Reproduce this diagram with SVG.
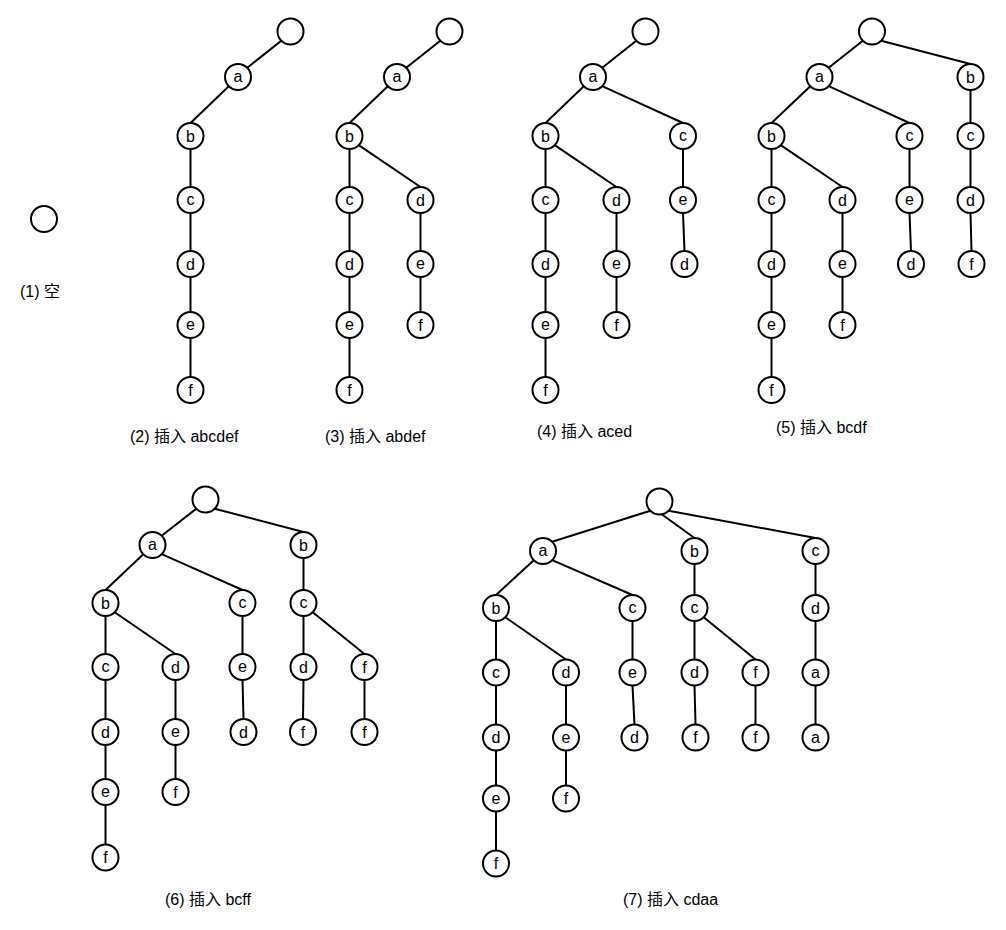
<svg xmlns="http://www.w3.org/2000/svg" width="1006" height="930" viewBox="0 0 1006 930">
<style>
.n circle{fill:#fff;stroke:#000;stroke-width:2}
.n text{font-family:"Liberation Sans","Noto Sans CJK SC",sans-serif;font-size:16px;text-anchor:middle;fill:#000}
#edges line{stroke:#000;stroke-width:2}
.cap{font-family:"Liberation Sans","Noto Sans CJK SC",sans-serif;font-size:16px;fill:#000}
</style>
<rect width="1006" height="930" fill="#fff"/>
<g id="edges">
<!-- tree 2 -->
<line x1="281.3" y1="40.7" x2="247.2" y2="67.8"/>
<line x1="228.8" y1="86.2" x2="190.5" y2="123"/>
<line x1="190.5" y1="149" x2="190.5" y2="187"/>
<line x1="190.5" y1="213" x2="190.5" y2="251"/>
<line x1="190.5" y1="277" x2="190.5" y2="312"/>
<line x1="190.5" y1="338" x2="190.5" y2="377"/>
<!-- tree 3 -->
<line x1="440.3" y1="40.7" x2="406.2" y2="67.8"/>
<line x1="387.8" y1="86.2" x2="349.5" y2="123"/>
<line x1="349.5" y1="149" x2="349.5" y2="187"/>
<line x1="358.7" y1="145.2" x2="420.5" y2="187"/>
<line x1="349.5" y1="213" x2="349.5" y2="251"/>
<line x1="349.5" y1="277" x2="349.5" y2="312"/>
<line x1="349.5" y1="338" x2="349.5" y2="377"/>
<line x1="420.5" y1="213" x2="420.5" y2="251"/>
<line x1="420.5" y1="277" x2="420.5" y2="312"/>
<!-- tree 4 -->
<line x1="636.3" y1="40.7" x2="602.2" y2="67.8"/>
<line x1="583.8" y1="86.2" x2="545.5" y2="123"/>
<line x1="602.2" y1="86.2" x2="683" y2="123"/>
<line x1="545.5" y1="149" x2="545.5" y2="187"/>
<line x1="554.7" y1="145.2" x2="616.5" y2="187"/>
<line x1="545.5" y1="213" x2="545.5" y2="251"/>
<line x1="545.5" y1="277" x2="545.5" y2="312"/>
<line x1="545.5" y1="338" x2="545.5" y2="377"/>
<line x1="616.5" y1="213" x2="616.5" y2="251"/>
<line x1="616.5" y1="277" x2="616.5" y2="312"/>
<line x1="683" y1="149" x2="683" y2="187"/>
<line x1="683" y1="213" x2="684.5" y2="251"/>
<!-- tree 5 -->
<line x1="862.8" y1="40.7" x2="828.7" y2="67.8"/>
<line x1="881.2" y1="40.7" x2="970.5" y2="64"/>
<line x1="810.3" y1="86.2" x2="771.5" y2="123"/>
<line x1="828.7" y1="86.2" x2="909.5" y2="123"/>
<line x1="771.5" y1="149" x2="771.5" y2="187"/>
<line x1="780.7" y1="145.2" x2="842.5" y2="187"/>
<line x1="771.5" y1="213" x2="771.5" y2="251"/>
<line x1="771.5" y1="277" x2="771.5" y2="312"/>
<line x1="771.5" y1="338" x2="771.5" y2="377"/>
<line x1="842.5" y1="213" x2="842.5" y2="251"/>
<line x1="842.5" y1="277" x2="842.5" y2="312"/>
<line x1="909.5" y1="149" x2="909.5" y2="187"/>
<line x1="909.5" y1="213" x2="911" y2="251"/>
<line x1="970.5" y1="90" x2="970.5" y2="123"/>
<line x1="970.5" y1="149" x2="970.5" y2="187"/>
<line x1="970.5" y1="213" x2="971.5" y2="251"/>
<!-- tree 6 -->
<line x1="196.3" y1="508.7" x2="161.7" y2="535.8"/>
<line x1="214.7" y1="508.7" x2="303.5" y2="532"/>
<line x1="143.3" y1="554.2" x2="105.5" y2="590"/>
<line x1="161.7" y1="554.2" x2="242.5" y2="590"/>
<line x1="303.5" y1="558" x2="303.5" y2="590"/>
<line x1="105.5" y1="616" x2="105.5" y2="654"/>
<line x1="114.7" y1="612.2" x2="175.5" y2="654"/>
<line x1="242.5" y1="616" x2="242.5" y2="654"/>
<line x1="303.5" y1="616" x2="303.5" y2="654"/>
<line x1="312.7" y1="612.2" x2="364.5" y2="654"/>
<line x1="105.5" y1="680" x2="105.5" y2="719"/>
<line x1="175.5" y1="680" x2="175.5" y2="719"/>
<line x1="242.5" y1="680" x2="243.5" y2="719"/>
<line x1="303.5" y1="680" x2="303" y2="719"/>
<line x1="364.5" y1="680" x2="364.5" y2="719"/>
<line x1="105.5" y1="745" x2="105.5" y2="779"/>
<line x1="175.5" y1="745" x2="175.5" y2="779"/>
<line x1="105.5" y1="805" x2="105.5" y2="844.5"/>
<!-- tree 7 -->
<line x1="650.3" y1="510.7" x2="552.2" y2="541.8"/>
<line x1="662" y1="514.5" x2="694.5" y2="538"/>
<line x1="668.7" y1="510.7" x2="815.5" y2="538"/>
<line x1="533.8" y1="560.2" x2="496" y2="595"/>
<line x1="552.2" y1="560.2" x2="632.5" y2="595"/>
<line x1="694.5" y1="564" x2="694.5" y2="595"/>
<line x1="815.5" y1="564" x2="815.5" y2="595"/>
<line x1="496" y1="621" x2="496" y2="659.5"/>
<line x1="505.2" y1="617.2" x2="566" y2="659.5"/>
<line x1="632.5" y1="621" x2="632.5" y2="659.5"/>
<line x1="694.5" y1="621" x2="694.5" y2="659.5"/>
<line x1="703.7" y1="617.2" x2="755.5" y2="659.5"/>
<line x1="815.5" y1="621" x2="815.5" y2="659.5"/>
<line x1="496" y1="685.5" x2="496" y2="724.5"/>
<line x1="566" y1="685.5" x2="566" y2="724.5"/>
<line x1="632.5" y1="685.5" x2="634.5" y2="724.5"/>
<line x1="694.5" y1="685.5" x2="695.5" y2="724.5"/>
<line x1="755.5" y1="685.5" x2="755.5" y2="724.5"/>
<line x1="815.5" y1="685.5" x2="815.5" y2="724.5"/>
<line x1="496" y1="750.5" x2="496" y2="785.5"/>
<line x1="566" y1="750.5" x2="566" y2="785.5"/>
<line x1="496" y1="811.5" x2="496" y2="850.5"/>
</g>
<!-- tree 1 -->
<g id="t1-root" class="n"><circle cx="44" cy="219" r="13"/></g>
<!-- tree 2 -->
<g id="t2-root" class="n"><circle cx="290.5" cy="31.5" r="13"/></g>
<g id="t2-a" class="n"><circle cx="238" cy="77" r="13"/><text x="238" y="82">a</text></g>
<g id="t2-b" class="n"><circle cx="190.5" cy="136" r="13"/><text x="190.5" y="141.5">b</text></g>
<g id="t2-c" class="n"><circle cx="190.5" cy="200" r="13"/><text x="190.5" y="205">c</text></g>
<g id="t2-d" class="n"><circle cx="190.5" cy="264" r="13"/><text x="190.5" y="269.5">d</text></g>
<g id="t2-e" class="n"><circle cx="190.5" cy="325" r="13"/><text x="190.5" y="330">e</text></g>
<g id="t2-f" class="n"><circle cx="190.5" cy="390" r="13"/><text x="190.5" y="395.5">f</text></g>
<!-- tree 3 -->
<g id="t3-root" class="n"><circle cx="449.5" cy="31.5" r="13"/></g>
<g id="t3-a" class="n"><circle cx="397" cy="77" r="13"/><text x="397" y="82">a</text></g>
<g id="t3-b" class="n"><circle cx="349.5" cy="136" r="13"/><text x="349.5" y="141.5">b</text></g>
<g id="t3-bc" class="n"><circle cx="349.5" cy="200" r="13"/><text x="349.5" y="205">c</text></g>
<g id="t3-bcd" class="n"><circle cx="349.5" cy="264" r="13"/><text x="349.5" y="269.5">d</text></g>
<g id="t3-bcde" class="n"><circle cx="349.5" cy="325" r="13"/><text x="349.5" y="330">e</text></g>
<g id="t3-bcdef" class="n"><circle cx="349.5" cy="390" r="13"/><text x="349.5" y="395.5">f</text></g>
<g id="t3-bd" class="n"><circle cx="420.5" cy="200" r="13"/><text x="420.5" y="205.5">d</text></g>
<g id="t3-bde" class="n"><circle cx="420.5" cy="264" r="13"/><text x="420.5" y="269">e</text></g>
<g id="t3-bdef" class="n"><circle cx="420.5" cy="325" r="13"/><text x="420.5" y="330.5">f</text></g>
<!-- tree 4 -->
<g id="t4-root" class="n"><circle cx="645.5" cy="31.5" r="13"/></g>
<g id="t4-a" class="n"><circle cx="593" cy="77" r="13"/><text x="593" y="82">a</text></g>
<g id="t4-b" class="n"><circle cx="545.5" cy="136" r="13"/><text x="545.5" y="141.5">b</text></g>
<g id="t4-bc" class="n"><circle cx="545.5" cy="200" r="13"/><text x="545.5" y="205">c</text></g>
<g id="t4-bcd" class="n"><circle cx="545.5" cy="264" r="13"/><text x="545.5" y="269.5">d</text></g>
<g id="t4-bcde" class="n"><circle cx="545.5" cy="325" r="13"/><text x="545.5" y="330">e</text></g>
<g id="t4-bcdef" class="n"><circle cx="545.5" cy="390" r="13"/><text x="545.5" y="395.5">f</text></g>
<g id="t4-bd" class="n"><circle cx="616.5" cy="200" r="13"/><text x="616.5" y="205.5">d</text></g>
<g id="t4-bde" class="n"><circle cx="616.5" cy="264" r="13"/><text x="616.5" y="269">e</text></g>
<g id="t4-bdef" class="n"><circle cx="616.5" cy="325" r="13"/><text x="616.5" y="330.5">f</text></g>
<g id="t4-c" class="n"><circle cx="683" cy="136" r="13"/><text x="683" y="141">c</text></g>
<g id="t4-ce" class="n"><circle cx="683" cy="200" r="13"/><text x="683" y="205">e</text></g>
<g id="t4-ced" class="n"><circle cx="684.5" cy="264" r="13"/><text x="684.5" y="269.5">d</text></g>
<!-- tree 5 -->
<g id="t5-root" class="n"><circle cx="872" cy="31.5" r="13"/></g>
<g id="t5-a" class="n"><circle cx="819.5" cy="77" r="13"/><text x="819.5" y="82">a</text></g>
<g id="t5-b" class="n"><circle cx="970.5" cy="77" r="13"/><text x="970.5" y="82.5">b</text></g>
<g id="t5-ab" class="n"><circle cx="771.5" cy="136" r="13"/><text x="771.5" y="141.5">b</text></g>
<g id="t5-ac" class="n"><circle cx="909.5" cy="136" r="13"/><text x="909.5" y="141">c</text></g>
<g id="t5-bc" class="n"><circle cx="970.5" cy="136" r="13"/><text x="970.5" y="141">c</text></g>
<g id="t5-abc" class="n"><circle cx="771.5" cy="200" r="13"/><text x="771.5" y="205">c</text></g>
<g id="t5-abcd" class="n"><circle cx="771.5" cy="264" r="13"/><text x="771.5" y="269.5">d</text></g>
<g id="t5-abcde" class="n"><circle cx="771.5" cy="325" r="13"/><text x="771.5" y="330">e</text></g>
<g id="t5-abcdef" class="n"><circle cx="771.5" cy="390" r="13"/><text x="771.5" y="395.5">f</text></g>
<g id="t5-abd" class="n"><circle cx="842.5" cy="200" r="13"/><text x="842.5" y="205.5">d</text></g>
<g id="t5-abde" class="n"><circle cx="842.5" cy="264" r="13"/><text x="842.5" y="269">e</text></g>
<g id="t5-abdef" class="n"><circle cx="842.5" cy="325" r="13"/><text x="842.5" y="330.5">f</text></g>
<g id="t5-ace" class="n"><circle cx="909.5" cy="200" r="13"/><text x="909.5" y="205">e</text></g>
<g id="t5-aced" class="n"><circle cx="911" cy="264" r="13"/><text x="911" y="269.5">d</text></g>
<g id="t5-bcd" class="n"><circle cx="970.5" cy="200" r="13"/><text x="970.5" y="205.5">d</text></g>
<g id="t5-bcdf" class="n"><circle cx="971.5" cy="264" r="13"/><text x="971.5" y="269.5">f</text></g>
<!-- tree 6 -->
<g id="t6-root" class="n"><circle cx="205.5" cy="499.5" r="13"/></g>
<g id="t6-a" class="n"><circle cx="152.5" cy="545" r="13"/><text x="152.5" y="550">a</text></g>
<g id="t6-b" class="n"><circle cx="303.5" cy="545" r="13"/><text x="303.5" y="550.5">b</text></g>
<g id="t6-ab" class="n"><circle cx="105.5" cy="603" r="13"/><text x="105.5" y="608.5">b</text></g>
<g id="t6-ac" class="n"><circle cx="242.5" cy="603" r="13"/><text x="242.5" y="608">c</text></g>
<g id="t6-bc" class="n"><circle cx="303.5" cy="603" r="13"/><text x="303.5" y="608">c</text></g>
<g id="t6-abc" class="n"><circle cx="105.5" cy="667" r="13"/><text x="105.5" y="672">c</text></g>
<g id="t6-abd" class="n"><circle cx="175.5" cy="667" r="13"/><text x="175.5" y="672.5">d</text></g>
<g id="t6-ace" class="n"><circle cx="242.5" cy="667" r="13"/><text x="242.5" y="672">e</text></g>
<g id="t6-bcd" class="n"><circle cx="303.5" cy="667" r="13"/><text x="303.5" y="672.5">d</text></g>
<g id="t6-bcf" class="n"><circle cx="364.5" cy="667" r="13"/><text x="364.5" y="672.5">f</text></g>
<g id="t6-abcd" class="n"><circle cx="105.5" cy="732" r="13"/><text x="105.5" y="737.5">d</text></g>
<g id="t6-abde" class="n"><circle cx="175.5" cy="732" r="13"/><text x="175.5" y="737">e</text></g>
<g id="t6-aced" class="n"><circle cx="243.5" cy="732" r="13"/><text x="243.5" y="737.5">d</text></g>
<g id="t6-bcdf" class="n"><circle cx="303" cy="732" r="13"/><text x="303" y="737.5">f</text></g>
<g id="t6-bcff" class="n"><circle cx="364.5" cy="732" r="13"/><text x="364.5" y="737.5">f</text></g>
<g id="t6-abcde" class="n"><circle cx="105.5" cy="792" r="13"/><text x="105.5" y="797">e</text></g>
<g id="t6-abdef" class="n"><circle cx="175.5" cy="792" r="13"/><text x="175.5" y="797.5">f</text></g>
<g id="t6-abcdef" class="n"><circle cx="105.5" cy="857.5" r="13"/><text x="105.5" y="863">f</text></g>
<!-- tree 7 -->
<g id="t7-root" class="n"><circle cx="659.5" cy="501.5" r="13"/></g>
<g id="t7-a" class="n"><circle cx="543" cy="551" r="13"/><text x="543" y="556">a</text></g>
<g id="t7-b" class="n"><circle cx="694.5" cy="551" r="13"/><text x="694.5" y="556.5">b</text></g>
<g id="t7-c" class="n"><circle cx="815.5" cy="551" r="13"/><text x="815.5" y="556">c</text></g>
<g id="t7-ab" class="n"><circle cx="496" cy="608" r="13"/><text x="496" y="613.5">b</text></g>
<g id="t7-ac" class="n"><circle cx="632.5" cy="608" r="13"/><text x="632.5" y="613">c</text></g>
<g id="t7-bc" class="n"><circle cx="694.5" cy="608" r="13"/><text x="694.5" y="613">c</text></g>
<g id="t7-cd" class="n"><circle cx="815.5" cy="608" r="13"/><text x="815.5" y="613.5">d</text></g>
<g id="t7-abc" class="n"><circle cx="496" cy="672.5" r="13"/><text x="496" y="677.5">c</text></g>
<g id="t7-abd" class="n"><circle cx="566" cy="672.5" r="13"/><text x="566" y="678">d</text></g>
<g id="t7-ace" class="n"><circle cx="632.5" cy="672.5" r="13"/><text x="632.5" y="677.5">e</text></g>
<g id="t7-bcd" class="n"><circle cx="694.5" cy="672.5" r="13"/><text x="694.5" y="678">d</text></g>
<g id="t7-bcf" class="n"><circle cx="755.5" cy="672.5" r="13"/><text x="755.5" y="678">f</text></g>
<g id="t7-cda" class="n"><circle cx="815.5" cy="672.5" r="13"/><text x="815.5" y="677.5">a</text></g>
<g id="t7-abcd" class="n"><circle cx="496" cy="737.5" r="13"/><text x="496" y="743">d</text></g>
<g id="t7-abde" class="n"><circle cx="566" cy="737.5" r="13"/><text x="566" y="742.5">e</text></g>
<g id="t7-aced" class="n"><circle cx="634.5" cy="737.5" r="13"/><text x="634.5" y="743">d</text></g>
<g id="t7-bcdf" class="n"><circle cx="695.5" cy="737.5" r="13"/><text x="695.5" y="743">f</text></g>
<g id="t7-bcff" class="n"><circle cx="755.5" cy="737.5" r="13"/><text x="755.5" y="743">f</text></g>
<g id="t7-cdaa" class="n"><circle cx="815.5" cy="737.5" r="13"/><text x="815.5" y="742.5">a</text></g>
<g id="t7-abcde" class="n"><circle cx="496" cy="798.5" r="13"/><text x="496" y="803.5">e</text></g>
<g id="t7-abdef" class="n"><circle cx="566" cy="798.5" r="13"/><text x="566" y="804">f</text></g>
<g id="t7-abcdef" class="n"><circle cx="496" cy="863.5" r="13"/><text x="496" y="869">f</text></g>
<!-- captions -->
<g id="captions">
<text class="cap" x="20" y="297">(1) 空</text>
<text class="cap" x="130" y="442">(2) 插入 abcdef</text>
<text class="cap" x="325" y="442">(3) 插入 abdef</text>
<text class="cap" x="537" y="437">(4) 插入 aced</text>
<text class="cap" x="776" y="433">(5) 插入 bcdf</text>
<text class="cap" x="165" y="905">(6) 插入 bcff</text>
<text class="cap" x="623" y="905">(7) 插入 cdaa</text>
</g>
</svg>
